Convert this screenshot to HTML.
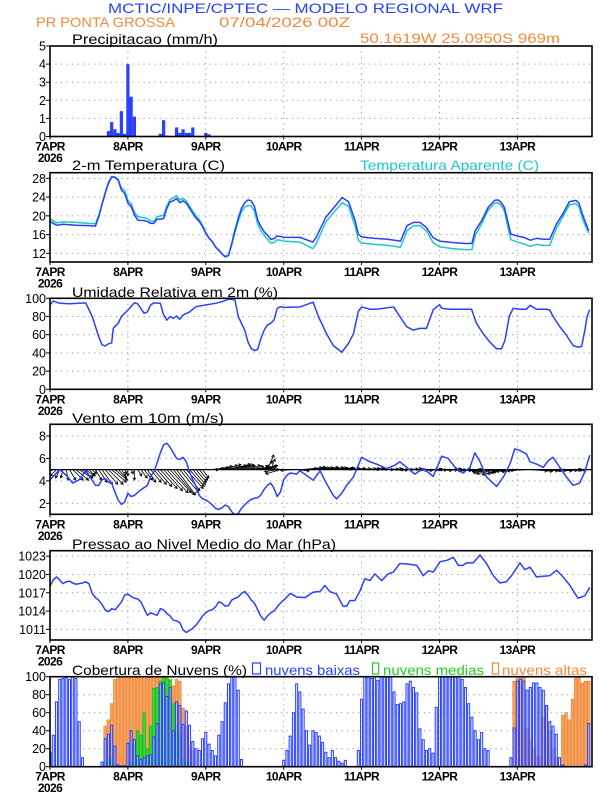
<!DOCTYPE html>
<html><head><meta charset="utf-8"><style>
html,body{margin:0;padding:0;background:#fff;width:612px;height:792px;overflow:hidden}
svg{display:block}
text{font-family:"Liberation Sans",sans-serif}
</style></head><body>
<svg id="chart" width="612" height="792" viewBox="0 0 612 792" xmlns="http://www.w3.org/2000/svg">
<text x="108" y="13" font-size="14" fill="#2840ff" textLength="395" lengthAdjust="spacingAndGlyphs">MCTIC/INPE/CPTEC — MODELO REGIONAL WRF</text>
<text x="36" y="27" font-size="14" fill="#f08a3c" textLength="139" lengthAdjust="spacingAndGlyphs">PR PONTA GROSSA</text>
<text x="219" y="27" font-size="14" fill="#f08a3c" textLength="131" lengthAdjust="spacingAndGlyphs">07/04/2026 00Z</text>
<text x="360" y="43" font-size="14" fill="#f08a3c" textLength="200" lengthAdjust="spacingAndGlyphs">50.1619W 25.0950S 969m</text>
<text x="72" y="44" font-size="14" fill="#000" textLength="146" lengthAdjust="spacingAndGlyphs">Precipitacao (mm/h)</text>
<text x="72" y="170" font-size="14" fill="#000" textLength="153" lengthAdjust="spacingAndGlyphs">2-m Temperatura (C)</text>
<text x="360" y="170" font-size="14" fill="#1cc8c8" textLength="179" lengthAdjust="spacingAndGlyphs">Temperatura Aparente (C)</text>
<text x="72" y="297" font-size="14" fill="#000" textLength="206" lengthAdjust="spacingAndGlyphs">Umidade Relativa em 2m (%)</text>
<text x="72" y="423" font-size="14" fill="#000" textLength="152" lengthAdjust="spacingAndGlyphs">Vento em 10m (m/s)</text>
<text x="72" y="549" font-size="14" fill="#000" textLength="264" lengthAdjust="spacingAndGlyphs">Pressao ao Nivel Medio do Mar (hPa)</text>
<text x="72" y="675" font-size="14" fill="#000" textLength="175" lengthAdjust="spacingAndGlyphs">Cobertura de Nuvens (%)</text>
<rect x="252.5" y="663" width="8" height="11" fill="none" stroke="#2840ff" stroke-width="1.2"/>
<text x="265" y="675" font-size="14" fill="#2840ff" textLength="95" lengthAdjust="spacingAndGlyphs">nuvens baixas</text>
<rect x="372.5" y="663" width="6" height="11" fill="none" stroke="#20d020" stroke-width="1.2"/>
<text x="383" y="675" font-size="14" fill="#20d020" textLength="101" lengthAdjust="spacingAndGlyphs">nuvens medias</text>
<rect x="492.5" y="663" width="6" height="11" fill="none" stroke="#f08a3c" stroke-width="1.2"/>
<text x="502" y="675" font-size="14" fill="#f08a3c" textLength="85" lengthAdjust="spacingAndGlyphs">nuvens altas</text>
</svg>
<script>
const dayLabels=["7APR","8APR","9APR","10APR","11APR","12APR","13APR"];
const yearLabel="2026";
const precipH=[11,14,15,18,19,20,21,22,23,24,25,26,34,35,36,39,40,41,42,43,44,45,48,49,117,122,150];
const precipV=[0.03,0.03,0.03,0.3,0.8,0.4,0.2,1.4,0.15,4.0,2.2,1.1,0.15,0.9,0.05,0.5,0.2,0.4,0.2,0.2,0.5,0.03,0.2,0.12,0.05,0.05,0.05];
const tempH=[0,2,4,8,12,14,15,17,18,19,20,21,22,23,24,25,26,27,28,29,30,31,32,33,34,35,36,37,38,39,40,41,42,43,44,45,46,47,48,49,50,51,52,53,54,55,56,57,58,59,60,61,62,63,64,65,66,67,68,69,70,71,72,77,81,82,85,88,90,92,94,95,96,100,104,108,110,112,114,116,118,120,124,128,130,131,133,135,137,138,139,140,141,142,144,146,148,150,152,154,156,158,160,162,163,164,165,166];
const tempV=[18.8,18.0,18.2,18.0,17.9,17.8,19.8,24.8,26.9,28.3,28.2,27.6,25.5,24.8,22.7,22.0,20.2,19.1,19.0,19.0,18.8,18.4,18.4,19.3,19.3,19.4,21.6,23.0,23.2,23.7,22.8,23.2,22.7,21.6,20.5,19.5,18.8,17.7,16.3,15.2,14.5,13.4,12.7,11.9,11.3,11.6,14.1,17.0,19.5,21.6,22.8,23.4,23.2,22.0,19.1,17.7,16.6,15.9,15.0,15.1,15.7,15.6,15.4,15.4,14.4,15.4,19.7,22.2,23.9,23.0,19.0,16.1,15.5,15.2,15.0,14.6,17.9,18.6,18.6,17.5,15.4,14.6,14.3,14.1,14.1,16.8,19.0,21.8,23.3,23.4,22.9,21.8,19.0,16.1,15.7,15.4,14.8,15.2,15.0,15.0,18.2,20.4,23.0,23.3,22.7,20.4,18.6,16.8];
const appTempV=[19.4,18.5,18.7,18.6,18.4,18.3,20.0,25.0,27.2,28.4,28.3,27.8,26.0,25.4,23.3,22.6,20.8,19.8,19.7,19.6,19.4,18.9,18.8,19.8,20.0,20.1,22.1,23.5,23.8,24.3,23.4,23.7,23.2,22.1,21.0,20.0,19.2,18.0,16.5,15.3,14.5,13.3,12.6,11.8,11.2,11.5,13.8,16.5,18.8,20.8,21.9,22.2,22.1,21.0,18.3,16.8,15.8,15.0,14.2,14.3,14.9,14.8,14.6,14.4,13.0,14.0,18.7,21.2,22.8,22.0,17.8,14.8,14.2,13.9,13.7,13.3,16.8,17.9,17.9,16.8,14.3,13.4,13.0,12.8,12.8,15.8,18.3,21.2,22.7,22.8,22.3,21.0,17.8,14.9,14.4,14.0,13.5,13.9,13.7,13.7,17.3,19.7,22.3,22.6,22.0,19.5,17.8,16.3];
const rhH=[0,1,3,6,11,13,15,16,17,18,19,19.5,21,22,24,26,27,29,30,31,32,34,35,36,37,38,39,40,41,43,45,48,51,53,55,56,57,58,60,61,62,63,64,65,66,67,68,69,70,71,72,77,81.1,82.7,85.2,87.3,89.9,91.9,93.5,95,96,98.6,100.6,105.9,107.8,109.9,111.9,114,116,118.1,120,120.7,123.2,127.3,129.9,131.4,133.5,135.5,137.6,139.1,140.2,141.5,142.7,144.8,146.8,147.9,149.9,153,154,155,157.1,159.1,161.2,162.7,163.8,164.8,165.5,166.3];
const rhV=[92.7,97,94.5,94,95,80,58,49,47.6,50,51,67,72.5,80,87,95,94,83.5,85,92.7,95,94.5,81.7,76,80,78,80.6,77,81.7,85,90.8,92.7,94.5,96.3,99,99,98,80,65,52,45,42.5,44,56,65,70.7,72.5,76,89,90.8,90,90.5,95.7,80,61,48,40.7,50,61,85.6,90.5,88,88,90.5,80,68.8,65,67,67,87.5,93,89,88,88,88,72.5,61,52,44.5,44.5,54,80,89,88,88,92.3,88,88,87,80,68.8,59.4,48,46.4,47,65,80,87.5];
const windH=[0,1,3,5,7,9,11,12,14,15,16,17,18,19,20,21,22,23,24,25,26,28,30,31,32,33,34,35,36,37,38,39,40,41,42,43,44,45,46,47,48,49,50,51,52,53,54,55,56,57,58,59,60,61,62,63,64,65,66,67,68,69,70,71,72,73,74,76,77,81.1,83.2,85.2,87.3,88.3,89.9,91.4,93.5,96,98.6,100.6,103.7,106.3,107.8,109.9,112.4,115,118.1,120.7,122.7,124.8,127.3,129.4,130.9,132.5,134.5,137.6,139.7,141.7,143.2,144.8,146.8,147.9,149.9,152,153.5,155,157.1,159.1,161.2,163.2,164.8,166.3];
const windV=[4.1,4.4,5.0,4.5,3.8,4.1,4.9,4.5,3.6,3.6,4.1,4.2,3.9,3.8,3.0,2.3,1.9,2.1,2.9,2.6,2.7,3.2,3.6,4.4,4.8,5.6,6.5,7.2,7.35,7.0,6.5,6.0,5.9,6.1,5.7,4.8,4.1,3.5,2.7,2.4,2.3,2.1,1.85,1.55,1.45,1.6,1.85,1.7,1.25,0.95,1.1,1.55,1.85,2.15,2.35,2.45,2.5,2.75,3.25,3.6,3.8,3.35,2.6,3.0,4.1,4.5,4.7,4.6,4.9,4.06,4.9,3.76,2.7,2.4,2.9,3.6,4.35,6.1,5.7,5.5,5.1,5.4,5.7,5.2,4.6,5.1,4.4,6.2,6.0,5.2,4.7,5.2,6.5,5.7,4.35,3.5,4.35,5.5,6.85,6.7,6.4,5.7,5.5,5.2,5.8,6.1,5.2,4.35,3.6,3.8,4.8,6.3];
const windU=[-2.5,-2,-1.5,-1,-0.5,0.5,1.5,2.5,3,3,2.5,2,1.5,1,
1.5,2,2.5,3,3.5,3.5,3,2,1,0.5,0,0.5,
0,1,1.5,2,2,2.5,3,3.5,4,4.5,5,5,5,4.5,4.5,4,4,3.5,3,2.5,2,1.5,
3,3.5,4,4,4.5,4.5,5,5,4.5,4.5,4,4.5,4.5,5,5,5,4.5,4,
2,1.5,1,-2,-3,-3.5,
-4,-4,-3.5,-3,3,4,4.5,4.5,4,4,4,4.5,5,5,4.5,4,4,3.5,3,3.5,4,4.5,5,5,4.5,4.5,4,4,4.5,5,5,4.5,4,4,4.5,5,5,4.5,4,4,4.5,5,5,4.5,4,4,4.5,5,5,4.5,4,4,4.5,5,5,4.5,4,3.5,-3,-4,-4.5,-4.5,-4,-4,-4.5,-5,-5,-4.5,-4,-4,-4.5,-5,-5,-4.5,-4,-4,4,4.5,5,5,4.5,4,4,4.5,5,5,4.5,4,4];
const windVv=[-0.5,-1,-1.5,-2,-2,-2.5,-2.5,-2.5,-2.5,-2,-2,-1.5,-1.5,-1,
-2.5,-3,-3.5,-3.5,-3.5,-3,-2.5,-2,-1.5,-1,-1.5,-1,
-2.5,-1.5,-2,-2.5,-3,-3,-3.5,-4,-4.5,-5,-5.5,-5.5,-6,-6,-5.5,-5,-4.5,-4,-3.5,-3,-2.5,-2,
0,0.3,0.5,0.8,1,1.2,1,1,1.3,1.2,1,1,0.8,0.6,0.5,0.6,0.8,1,
2,3.5,2.5,1,-0.5,-1,
0.3,0.2,0,-0.2,-0.3,0.3,0.5,0.6,0.5,0.4,0.5,0.6,0.5,0.4,0.3,0.3,0.2,0.3,0.4,0.3,0.3,0.2,0.2,0.1,0.2,0.3,0.2,0.1,0,0.1,0.2,0.1,0,-0.1,0,0.1,0.2,0.1,0,-0.1,-0.2,-0.1,0,0.1,0,-0.1,-0.2,-0.1,0,0.1,0,-0.1,-0.2,-0.3,-0.2,-0.1,0,-0.1,-0.2,-0.3,-0.3,-0.2,-0.1,-0.2,-0.5,-0.8,-1,-1.2,-1,-0.8,-0.6,-0.5,-0.4,-0.5,-0.3,-0.2,-0.3,-0.4,-0.3,-0.2,-0.2,-0.1,-0.2,-0.3,-0.2,-0.1,0,-0.1,-0.2,-0.1,0,0,-0.1,-0.1,0];
const presH=[0,1,2,3,4,5,6,7,8,9,10,11,12,13,14,15,16,17,18,19,20,21,22,23,24,25,26,27,28,29,30,31,32,33,34,35,36,37,38,39,40,41,42,43,44,45,46,47,48,49,50,51,52,53,54,55,56,57,58,59,60,61,62,63,64,65,66,67,68,69,70,71,72,73,74,75,76,78.6,81.1,83.2,84.7,86.2,88.3,90.3,91.4,92.4,93.9,95.5,97,98.6,100.1,102.2,104.2,105.8,107.8,110.4,113,115,116.6,118.1,120.2,122.2,124.3,125.8,127.3,128.3,130.4,132.5,134.5,136.6,138.6,140.6,142.2,144.8,146.3,147.9,149.9,152,154,156.1,158.1,160.2,162.7,164.8,166.3];
const presV=[1018.1,1019.1,1019.6,1019.1,1018.5,1018.8,1018.9,1018.6,1018.4,1018.5,1018.6,1018.8,1018.5,1016.9,1016.2,1015.8,1015.1,1014.2,1013.9,1014.4,1014.2,1014.8,1015.5,1016.6,1016.8,1016.4,1016.1,1016.0,1015.5,1014.4,1013.3,1013.7,1013.5,1013.3,1014.4,1014.2,1013.6,1013.2,1012.5,1012.4,1012.1,1010.9,1010.5,1010.8,1011.2,1011.7,1012.4,1013.2,1013.7,1014.1,1014.2,1014.7,1015.5,1015.3,1014.8,1014.9,1015.8,1016.1,1016.3,1016.9,1017.2,1016.6,1015.8,1015.3,1014.2,1013.1,1012.5,1013.2,1013.7,1014.0,1014.7,1015.3,1015.8,1016.3,1016.9,1016.6,1016.3,1016.2,1017.1,1017.2,1018.2,1017.2,1016.8,1014.8,1014.8,1015.7,1015.7,1017.3,1019.3,1019.0,1020.1,1019.0,1020.1,1020.4,1021.8,1021.7,1021.5,1019.8,1020.6,1020.4,1022.1,1022.3,1022.8,1021.5,1021.5,1021.9,1021.9,1023.2,1021.8,1019.8,1018.6,1018.8,1019.8,1021.9,1020.8,1021.2,1019.6,1019.7,1019.8,1020.7,1019.6,1018.2,1016.1,1016.5,1017.9];
const cloudLow=[16,35,72,97,98,99,97,100,98,50,10,0,0,0,0,0,5,31,36,46,23,2,1,1,26,40,30,12,8,10,12,13,33,48,92,93,78,88,40,72,68,47,62,46,28,20,18,31,38,25,18,12,35,50,71,92,100,100,85,8,0,0,0,0,0,0,0,0,0,0,0,0,7,18,34,60,92,83,64,40,24,40,38,34,27,16,10,18,10,6,4,7,0,0,0,18,75,100,100,98,100,96,100,100,100,100,83,69,70,72,92,95,88,82,42,30,18,20,15,66,100,100,100,100,100,100,100,97,88,70,55,40,30,38,20,18,0,0,0,0,0,0,10,43,95,97,95,85,88,93,93,88,85,68,50,45,36,10,2,0,0,0,0,0,0,2,48];
const cloudMid=[0,0,0,0,0,0,0,0,0,0,0,0,0,0,0,0,0,5,10,8,2,0,0,0,2,5,25,40,35,60,20,45,87,88,95,100,100,96,70,45,36,8,5,5,0,0,0,0,0,0,0,0,0,0,0,0,0,0,0,0,0,0,0,0,0,0,0,0,0,0,0,0,0,0,0,0,0,0,0,0,0,0,0,0,0,0,0,0,0,0,0,0,0,0,0,0,0,0,0,0,0,0,0,0,0,0,0,0,0,0,0,0,0,0,0,0,0,0,0,0,0,0,0,0,0,0,0,0,0,0,0,0,0,0,0,0,0,0,0,0,0,0,0,0,0,0,0,0,0,0,0,0,0,0,0,0,0,0,0,0,0,0,0,0,0,0,0];
const cloudHigh=[0,0,0,0,0,0,0,0,0,0,0,0,0,0,0,0,0,45,52,70,97,100,100,100,100,100,100,100,100,100,100,100,100,100,100,100,100,97,90,97,95,65,45,22,18,0,0,0,0,0,0,0,0,0,0,0,0,0,0,0,0,0,0,0,0,0,0,0,0,0,0,0,0,0,0,0,0,0,0,0,0,0,0,0,0,0,0,0,0,0,0,0,0,0,0,0,0,0,0,0,0,0,0,0,0,0,0,0,0,0,0,0,0,0,0,0,0,0,0,0,0,0,0,0,0,0,0,0,0,0,0,0,0,0,0,0,0,0,0,0,0,0,0,95,98,100,100,43,30,20,11,11,55,67,39,20,10,0,57,60,52,75,100,100,93,95,95];

const NS="http://www.w3.org/2000/svg";
const svg=document.getElementById('chart');
const X0=50,X1=592,HMAX=167;
function xS(h){return X0+h*(X1-X0)/HMAX;}
function mk(tag,attrs,parent){const e=document.createElementNS(NS,tag);for(const k in attrs)e.setAttribute(k,attrs[k]);(parent||svg).appendChild(e);return e;}
const BLUE="#2840ff";
const panels={
 precip:{top:46,bot:136.5,min:0,max:5,ticks:[0,1,2,3,4,5]},
 temp:{top:172.7,bot:262,min:10.15,max:29.2,ticks:[12,16,20,24,28]},
 rh:{top:298.3,bot:389.3,min:0,max:100,ticks:[0,20,40,60,80,100]},
 wind:{top:424.3,bot:514.3,min:1.02,max:9.04,ticks:[2,4,6,8]},
 pres:{top:550.7,bot:640,min:1009.25,max:1023.9,ticks:[1011,1014,1017,1020,1023]},
 cloud:{top:676.7,bot:766.7,min:0,max:100,ticks:[0,20,40,60,80,100]}
};
function yS(p,v){return p.bot-(v-p.min)/(p.max-p.min)*(p.bot-p.top);}
function clipFor(key,p){
 const cp=mk('clipPath',{id:'clip-'+key});
 mk('rect',{x:X0,y:p.top,width:X1-X0,height:p.bot-p.top},cp);
}
for(const key in panels){
 const p=panels[key];
 clipFor(key,p);
 const g=mk('g',{});
 
 
 for(const t of p.ticks){
  const y=yS(p,t);
  if(y>p.top+1&&y<p.bot-1){
   const l=mk('line',{x1:X0,x2:X1,y1:y,y2:y,stroke:'#999','stroke-width':1,'stroke-dasharray':'1.2,4.3'},g);
   
   
  }
  const tk=mk('line',{x1:X0-4,x2:X0,y1:y,y2:y,stroke:'#000','stroke-width':1});
  
  
  const tx=mk('text',{x:X0-4,y:y+4.5,'font-size':12.5,'text-anchor':'end',fill:'#000'});
  tx.textContent=t;
  
  
 }
 for(let d=1;d<7;d++){
  const x=xS(d*24);
  const l=mk('line',{x1:x,x2:x,y1:p.top,y2:p.bot,stroke:'#999','stroke-width':1,'stroke-dasharray':'1.2,4.3'},g);
  
  
 }
 dayLabels.forEach((lab,d)=>{
  const x=xS(d*24);
  const tk=mk('line',{x1:x,x2:x,y1:p.bot,y2:p.bot+3,stroke:'#000','stroke-width':1});
  
  
  const tx=mk('text',{x:x,y:p.bot+14,'font-size':12,'text-anchor':'middle',fill:'#000','font-weight':'bold','letter-spacing':'-0.6'});
  tx.textContent=lab;
  
  
 });
 const yr=mk('text',{x:X0,y:p.bot+25.5,'font-size':12,'text-anchor':'middle',fill:'#000','font-weight':'bold','letter-spacing':'-0.6'});
 yr.textContent=yearLabel;
 
 
}
{const p=panels.precip;const g=mk('g',{'clip-path':'url(#clip-precip)'});
 
 
 const w=(X1-X0)/HMAX;
 precipH.forEach((h,i)=>{const y=yS(p,precipV[i]);
  const r=mk('rect',{x:xS(h)-w/2,y:y,width:w,height:Math.max(0.6,p.bot-y),fill:BLUE},g);
  
  
 });}
function line(key,hs,vs,color,name,w){
 const p=panels[key];
 const d=hs.map((h,i)=>(i?'L':'M')+xS(h).toFixed(2)+','+yS(p,vs[i]).toFixed(2)).join('');
 const e=mk('path',{d:d,fill:'none',stroke:color,'stroke-width':w||1.5,'stroke-linejoin':'round','clip-path':'url(#clip-'+key+')'});
 
 
}
line('temp',tempH,appTempV,'#1cc8c8','apparent-temp-line');
line('temp',tempH,tempV,BLUE,'temp-line');
line('rh',rhH,rhV,BLUE,'rh-line');
{const p=panels.wind;const g=mk('g',{'clip-path':'url(#clip-wind)'});
 
 
 const y0=yS(p,5),k=4.2;
 windU.forEach((u,h)=>{const x=xS(h);const dx=u*k,dy=-windVv[h]*k;
  const len=Math.hypot(dx,dy)||1;const ux=dx/len,uy=dy/len;const x2=x+dx,y2=y0+dy;
  const hl=2.5;
  const d='M'+x+','+y0+'L'+x2+','+y2+'M'+(x2-hl*ux+hl*0.6*uy)+','+(y2-hl*uy-hl*0.6*ux)+'L'+x2+','+y2+'L'+(x2-hl*ux-hl*0.6*uy)+','+(y2-hl*uy+hl*0.6*ux);
  const a=mk('path',{d:d,stroke:'#000','stroke-width':0.8,fill:'none'},g);
  
  
 });
 const bl=mk('line',{x1:X0,x2:X1,y1:y0,y2:y0,stroke:'#000','stroke-width':1.2},g);
 
 
}
line('wind',windH,windV,BLUE,'wind-speed-line');
line('pres',presH,presV,BLUE,'pressure-line');
{const p=panels.cloud;const g=mk('g',{'clip-path':'url(#clip-cloud)'});
 
 
 const w=(X1-X0)/HMAX;
 cloudHigh.forEach((v,h)=>{if(v<=0)return;const y=yS(p,v);
  const r=mk('rect',{x:xS(h)-w/2+0.3,y:y,width:w-0.6,height:p.bot-y,fill:'#f5a565',stroke:'#ef8a3a','stroke-width':0.8},g);
  
  });
 cloudMid.forEach((v,h)=>{if(v<=0)return;const y=yS(p,v);
  const r=mk('rect',{x:xS(h)-w/2+0.4,y:y,width:w-0.8,height:p.bot-y,fill:'#40d840',stroke:'#18c018','stroke-width':0.8},g);
  
  });
 cloudLow.forEach((v,h)=>{const y=yS(p,v);
  const r=mk('rect',{x:xS(h)-w/2+0.6,y:y,width:w-1.2,height:Math.max(0.5,p.bot-y),fill:'rgba(215,225,255,0.5)',stroke:BLUE,'stroke-width':1},g);
  
  });
}
for(const key in panels){const p=panels[key];
 const f=mk('rect',{x:X0,y:p.top,width:X1-X0,height:p.bot-p.top,fill:'none',stroke:'#000','stroke-width':1.6});
 
 
}
</script>
</body></html>
